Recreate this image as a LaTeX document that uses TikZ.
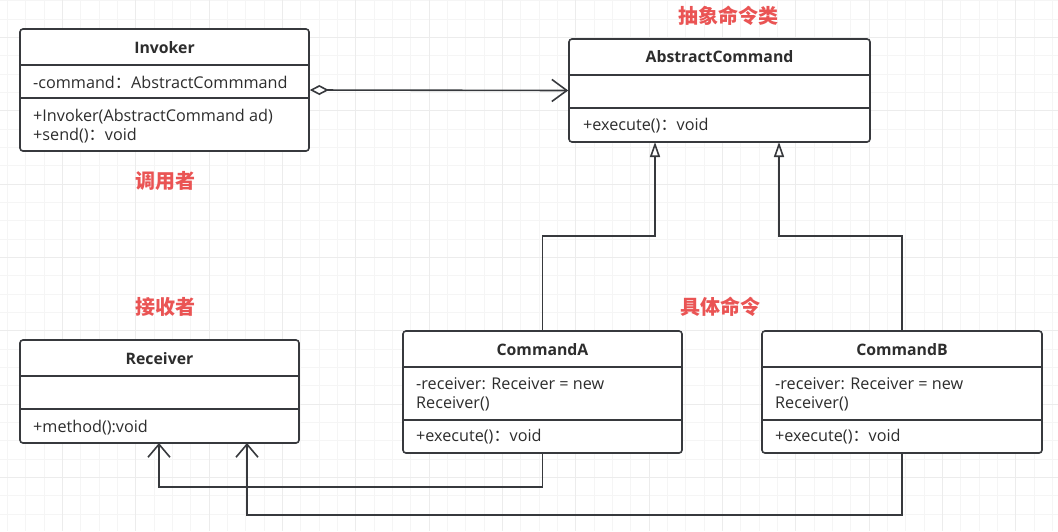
\documentclass[tikz,border=0pt]{standalone}
\usepackage{fontspec}
\setmainfont{Open Sans}
\newfontfamily\cjk{Noto Sans CJK SC}
\usetikzlibrary{arrows.meta,calc}
\definecolor{ln}{RGB}{55,57,61}
\definecolor{tx}{RGB}{45,45,45}
\definecolor{lbl}{RGB}{234,84,84}
\definecolor{gminor}{RGB}{245,245,245}
\definecolor{gmajor}{RGB}{236,236,236}
\newcommand{\fc}{{\cjk ：}}
\tikzset{
  classbox/.style={draw=ln, line width=1.6pt, rounded corners=3pt, fill=white, inner sep=0pt},
  divider/.style={draw=ln, line width=1.6pt},
  title/.style={font=\fontsize{15.8}{18}\selectfont\bfseries, text=tx, inner sep=0pt},
  member/.style={font=\fontsize{16.2}{19.5}\selectfont, text=tx, inner sep=0pt, anchor=west, align=left},
  cnlabel/.style={font=\cjk\fontsize{20}{22}\selectfont\bfseries, text=lbl, inner sep=0pt},
  conn/.style={draw=ln, line width=1.6pt},
}
\begin{document}
\begin{tikzpicture}[x=1pt,y=-1pt]
\useasboundingbox (0,0) rectangle (1058,531);
\fill[white] (0,0) rectangle (1058,531);
% grid
\foreach \i in {0,...,57} {\draw[gminor, line width=0.8pt] ({7.4+18.333*\i},0) -- ({7.4+18.333*\i},531);}
\foreach \i in {0,...,29} {\draw[gminor, line width=0.8pt] (0,{0.67+18.333*\i}) -- (1058,{0.67+18.333*\i});}
\foreach \i in {0,...,14} {\draw[gmajor, line width=0.9pt] ({62.4+73.333*\i},0) -- ({62.4+73.333*\i},531);}
\foreach \i in {0,...,7} {\draw[gmajor, line width=0.9pt] (0,{37.3+73.333*\i}) -- (1058,{37.3+73.333*\i});}

% Invoker
\node[classbox, minimum width=289pt, minimum height=122pt] (inv) at (164.5,90) {};
\draw[divider] (20,65) -- (309,65);
\draw[divider] (20,98) -- (309,98);
\node[title] (invt) at (164.5,48) {Invoker};
\node[member] (inva) at (33,82.5) {-command\fc AbstractCommmand};
\node[member] (invm) at (33,126) {+Invoker(AbstractCommand ad)\\+send()\fc void};

% AbstractCommand
\node[classbox, minimum width=301pt, minimum height=103pt] (abs) at (719.5,90.5) {};
\draw[divider] (569,75) -- (870,75);
\draw[divider] (569,108) -- (870,108);
\node[title] (abst) at (719.5,57) {AbstractCommand};
\node[member] (absm) at (583,125.5) {+execute()\fc void};

% CommandA
\node[classbox, minimum width=279pt, minimum height=122pt] (ca) at (542.5,392) {};
\draw[divider] (403,367) -- (682,367);
\draw[divider] (403,420) -- (682,420);
\node[title] (cat) at (542.5,350) {CommandA};
\node[member] (caa) at (416,394.5) {-receiver: Receiver = new\\Receiver()};
\node[member] (cam) at (416,436.5) {+execute()\fc void};

% CommandB
\node[classbox, minimum width=280pt, minimum height=122pt] (cb) at (902,392) {};
\draw[divider] (762,367) -- (1042,367);
\draw[divider] (762,420) -- (1042,420);
\node[title] (cbt) at (902,350) {CommandB};
\node[member] (cba) at (775,394.5) {-receiver: Receiver = new\\Receiver()};
\node[member] (cbm) at (775,436.5) {+execute()\fc void};

% Receiver
\node[classbox, minimum width=279pt, minimum height=103pt] (rec) at (159.5,391.5) {};
\draw[divider] (20,376) -- (299,376);
\draw[divider] (20,409) -- (299,409);
\node[title] (rect) at (159.5,359) {Receiver};
\node[member] (recm) at (33,427.5) {+method():void};

% labels
\node[cnlabel] (l1) at (728,16) {抽象命令类};
\node[cnlabel] (l2) at (165,181) {调用者};
\node[cnlabel] (l3) at (165,307) {接收者};
\node[cnlabel] (l4) at (720,307) {具体命令};

% connectors
\draw[conn, {Diamond[open, length=19pt, width=10pt, fill=white]}-{Straight Barb[length=15pt, width=22pt]}] (inv.east) -- (abs.west);

\coordinate (absA) at (655,142);
\coordinate (absB) at (779,142);
\draw[conn, -{Triangle[open, length=15pt, width=10pt, fill=white]}] (ca.north) |- (655,236) -- (absA);
\draw[conn, -{Triangle[open, length=15pt, width=10pt, fill=white]}] (cb.north) |- (779,236) -- (absB);

\coordinate (recA) at (159,443);
\coordinate (recB) at (247,443);
\draw[conn, -{Straight Barb[length=13pt, width=22pt]}] (ca.south) |- (159,487) -- (recA);
\draw[conn, -{Straight Barb[length=13pt, width=22pt]}] (cb.south) |- (247,515) -- (recB);
\end{tikzpicture}
\end{document}
